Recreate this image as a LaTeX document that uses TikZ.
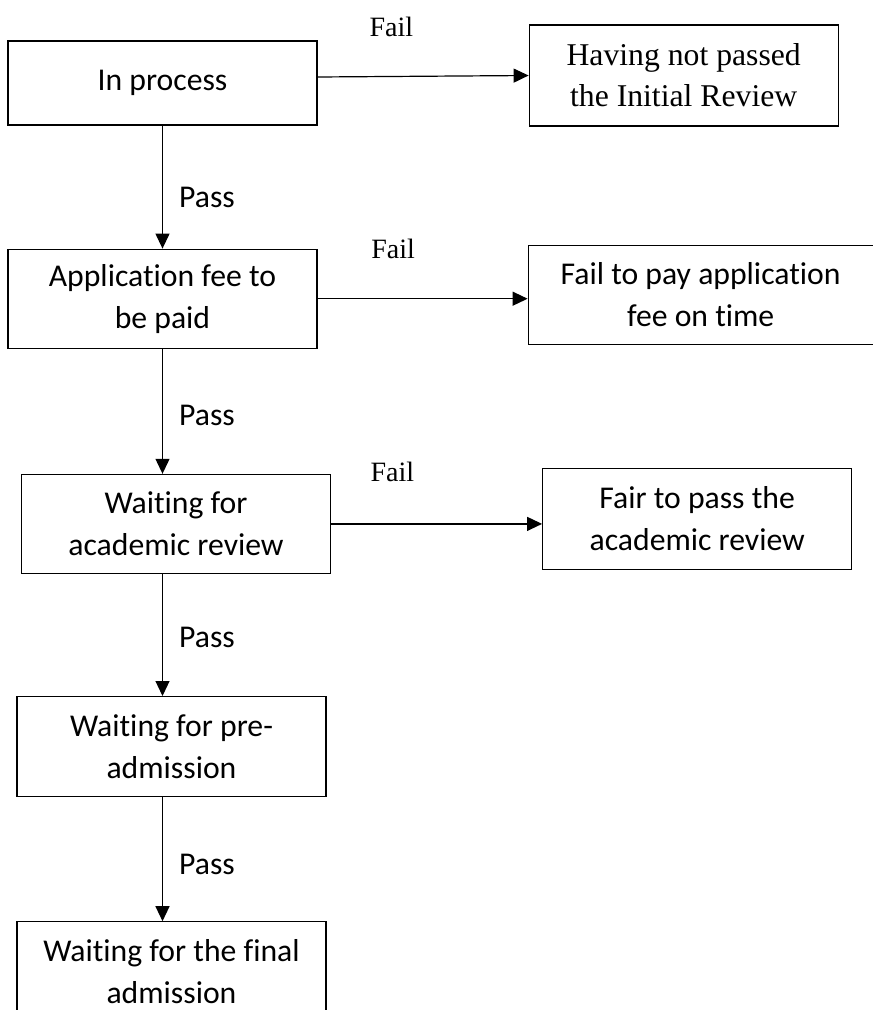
\documentclass[tikz,border=0pt]{standalone}
\usepackage{fontspec}
\setmainfont{Carlito}[Ligatures=NoCommon]
\newfontfamily\serifface{Liberation Serif}
\usetikzlibrary{positioning,arrows.meta}

\begin{document}
\begin{tikzpicture}[->,>={Triangle[length=15pt,width=14pt]},line width=1.2pt,state node/.style={rectangle,draw,minimum width=309pt,inner sep=2pt,align=center,font=\fontsize{31.7}{42}\selectfont},pass label/.style={inner sep=0pt,anchor=west,xshift=16pt,font=\fontsize{31.7}{40}\selectfont},fail label/.style={inner sep=0pt,font=\serifface\fontsize{28}{34}\selectfont}]
                \useasboundingbox (0,0) rectangle (873pt,-1010pt);
                \clip (0,0) rectangle (873pt,-1010pt);

                \node[state node,minimum height=84pt] (inproc) at (162.5pt,-83pt) {In process\rule[-6pt]{0pt}{1pt}};
                \node[state node,minimum height=101pt,font=\serifface\fontsize{31.7}{41}\selectfont] (noinit) [right=211pt of inproc,yshift=7.5pt] {Having not passed\\the Initial Review};
                \node[state node,minimum height=99pt] (fee) [below=123pt of inproc] {Application fee to\\be paid};
                \node[state node,minimum width=345pt,minimum height=99pt] (feelate) [right=210pt of fee,yshift=4pt] {Fail to pay application\\fee on time};
                \node[state node,minimum height=99pt] (acad) [below=125pt of fee,xshift=13.5pt] {Waiting for\\academic review};
                \node[state node,minimum height=101pt] (acadfail) [right=211pt of acad,yshift=5pt] {Fair to pass the\\academic review};
                \node[state node,minimum height=100pt] (pread) [below=122pt of acad,xshift=-4.5pt] {Waiting for pre-\\admission};
                \node[state node,minimum height=100pt] (final) [below=124pt of pread] {Waiting for the final\\admission};

                \path
                    (inproc) edge node[pass label,pos=0.585] {Pass} (fee)
                    (fee) edge node[pass label,pos=0.53] {Pass} (fee.south |- acad.north)
                    (fee.south |- acad.south) edge node[pass label,pos=0.52] {Pass} (fee.south |- pread.north)
                    (fee.south |- pread.south) edge node[pass label,pos=0.54] {Pass} (fee.south |- final.north)
                    ;

                \path
                    ([yshift=6pt]inproc.east) edge node[fail label,pos=0.35,yshift=50pt] {Fail} (noinit.west)
                    (fee.east) edge node[fail label,pos=0.36,yshift=49.5pt] {Fail} (fee.east -| feelate.west)
                    (acad.east) edge node[fail label,pos=0.29,yshift=51.5pt] {Fail} (acad.east -| acadfail.west)
                    ;

            \end{tikzpicture}
\end{document}
